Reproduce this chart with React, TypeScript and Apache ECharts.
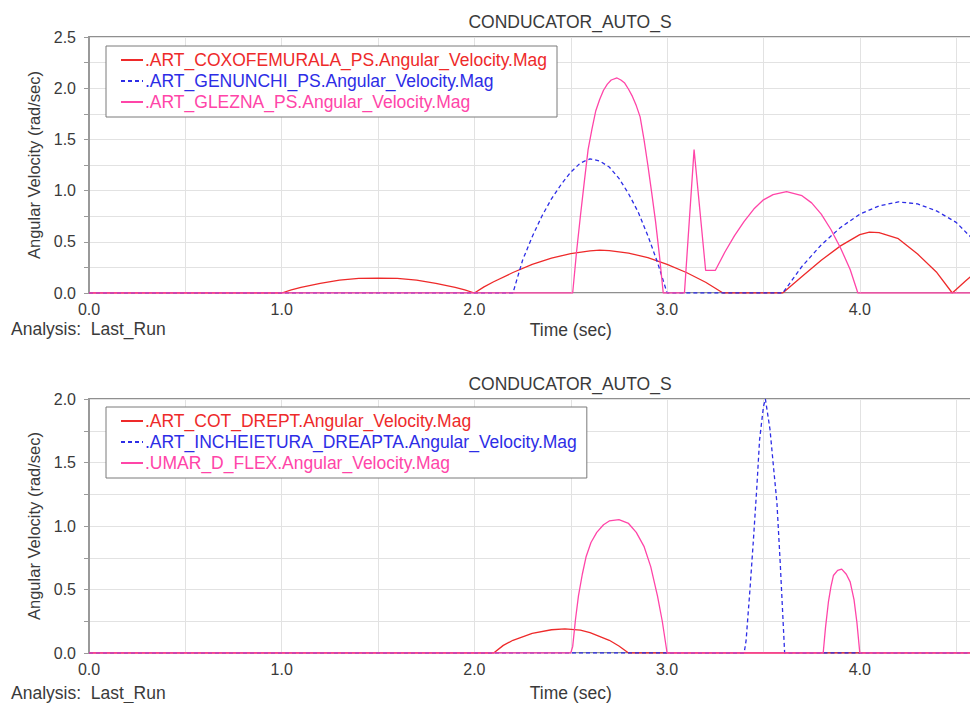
import React, { useEffect, useRef } from "react";
import * as echarts from "echarts";

// ---------- data (time in sec, angular velocity in rad/sec) ----------
const titleText = "CONDUCATOR_AUTO_S";
const analysisText = "Analysis:  Last_Run";
const xName = "Time (sec)";
const yName = "Angular Velocity (rad/sec)";

const topNames = [
  ".ART_COXOFEMURALA_PS.Angular_Velocity.Mag",
  ".ART_GENUNCHI_PS.Angular_Velocity.Mag",
  ".ART_GLEZNA_PS.Angular_Velocity.Mag",
];
const bottomNames = [
  ".ART_COT_DREPT.Angular_Velocity.Mag",
  ".ART_INCHEIETURA_DREAPTA.Angular_Velocity.Mag",
  ".UMAR_D_FLEX.Angular_Velocity.Mag",
];

const coxofemurala: number[][] = [
  [0, 0], [1.0, 0], [1.05, 0.03], [1.1, 0.055], [1.2, 0.095], [1.3, 0.125], [1.4, 0.142], [1.5, 0.146],
  [1.6, 0.142], [1.7, 0.125], [1.8, 0.095], [1.9, 0.055], [1.95, 0.03], [2.0, 0],
  [2.05, 0.06], [2.1, 0.11], [2.2, 0.2], [2.3, 0.28], [2.4, 0.34], [2.5, 0.385], [2.6, 0.412], [2.65, 0.418],
  [2.7, 0.414], [2.8, 0.39], [2.9, 0.345], [3.0, 0.28], [3.1, 0.2], [3.2, 0.105], [3.29, 0], [3.6, 0],
  [3.65, 0.08], [3.7, 0.16], [3.8, 0.32], [3.9, 0.46], [4.0, 0.57], [4.05, 0.595], [4.1, 0.59], [4.2, 0.53],
  [4.3, 0.38], [4.4, 0.2], [4.48, 0], [4.55, 0.12], [4.6, 0.2], [4.7, 0.32], [4.8, 0.4], [4.9, 0.44], [5.0, 0.42],
];
const genunchi: number[][] = [
  [0, 0], [2.2, 0], [2.25, 0.32], [2.3, 0.55], [2.35, 0.75], [2.4, 0.92], [2.45, 1.06], [2.5, 1.18],
  [2.55, 1.27], [2.6, 1.31], [2.65, 1.29], [2.7, 1.23], [2.75, 1.12], [2.8, 0.97], [2.85, 0.79], [2.9, 0.56],
  [2.95, 0.3], [3.0, 0], [3.6, 0], [3.65, 0.13], [3.7, 0.26], [3.8, 0.47], [3.9, 0.64], [4.0, 0.77],
  [4.1, 0.85], [4.2, 0.89], [4.3, 0.87], [4.4, 0.8], [4.5, 0.69], [4.6, 0.5], [4.7, 0.3], [4.8, 0.1], [4.85, 0], [5.0, 0],
];
const glezna: number[][] = [
  [0, 0], [2.51, 0], [2.53, 0.4], [2.55, 0.75], [2.57, 1.08], [2.59, 1.4], [2.61, 1.6], [2.63, 1.78],
  [2.65, 1.89], [2.67, 1.98], [2.69, 2.04], [2.71, 2.08], [2.74, 2.1], [2.76, 2.08], [2.78, 2.05],
  [2.8, 1.99], [2.82, 1.92], [2.84, 1.83], [2.86, 1.72], [2.88, 1.5], [2.9, 1.25], [2.92, 0.98],
  [2.94, 0.7], [2.96, 0.37], [2.98, 0], [3.09, 0], [3.14, 1.4],
  [3.2, 0.22], [3.25, 0.22], [3.3, 0.4], [3.35, 0.56], [3.4, 0.7], [3.45, 0.82], [3.5, 0.91], [3.55, 0.96],
  [3.62, 0.99], [3.7, 0.95], [3.75, 0.88], [3.8, 0.77], [3.85, 0.62], [3.9, 0.44], [3.95, 0.23], [3.99, 0], [5.0, 0],
];

const cotDrept: number[][] = [
  [0, 0], [2.1, 0], [2.15, 0.06], [2.2, 0.1], [2.3, 0.155], [2.4, 0.183], [2.47, 0.19], [2.55, 0.18],
  [2.6, 0.16], [2.7, 0.1], [2.75, 0.055], [2.8, 0], [5.0, 0],
];
const incheietura: number[][] = [
  [0, 0], [3.4, 0], [3.41, 0.1], [3.43, 0.5], [3.447, 0.87], [3.465, 1.29], [3.48, 1.68], [3.5, 1.94],
  [3.51, 2.0], [3.534, 1.76], [3.55, 1.5], [3.57, 1.18], [3.587, 0.71], [3.61, 0], [5.0, 0],
];
const umarFlex: number[][] = [
  [0, 0], [2.5, 0], [2.51, 0.05], [2.525, 0.27], [2.54, 0.45], [2.56, 0.62], [2.58, 0.76], [2.605, 0.87],
  [2.635, 0.95], [2.67, 1.01], [2.7, 1.04], [2.75, 1.05], [2.8, 1.02], [2.84, 0.95], [2.88, 0.84],
  [2.915, 0.68], [2.95, 0.45], [2.975, 0.25], [3.0, 0], [3.81, 0], [3.822, 0.2], [3.837, 0.4],
  [3.85, 0.52], [3.863, 0.61], [3.885, 0.65], [3.906, 0.66], [3.93, 0.62], [3.95, 0.56], [3.97, 0.42],
  [3.985, 0.24], [4.0, 0], [5.0, 0],
];

const topYMax = 2.5;
const bottomYMax = 2.0;
const xMax = 5.0;

const RED = "#ee2a2a";
const BLUE = "#2d2de6";
const PINK = "#ff45a8";
const colors = [RED, BLUE, PINK];

const FONT = "Liberation Sans, Arial, sans-serif";
const TEXT = "#3a3a3a";
const BIG = 17.5;

export default function App() {
  const ref = useRef<HTMLDivElement>(null);
  useEffect(() => {
    if (!ref.current) return;
    const chart = echarts.init(ref.current, undefined, { renderer: "svg" });

    const yFmt = (v: number) =>
      Math.abs(v * 2 - Math.round(v * 2)) < 1e-6 ? v.toFixed(1) : "";
    const xFmt = (v: number) =>
      Math.abs(v - Math.round(v)) < 1e-6 && v < 4.6 ? v.toFixed(1) : "";

    const mkX = (gridIndex: number, nameGap: number) => ({
      type: "value",
      gridIndex,
      min: 0,
      max: xMax,
      interval: 0.5,
      name: xName,
      nameLocation: "middle",
      nameGap,
      nameTextStyle: { color: TEXT, fontFamily: FONT, fontSize: BIG },
      axisLine: { show: false },
      axisTick: { show: false },
      axisLabel: { formatter: xFmt, color: TEXT, fontFamily: FONT, fontSize: 16, margin: 8 },
      splitLine: { show: true, lineStyle: { color: "#e2e2e2", width: 1 } },
    });
    const mkY = (gridIndex: number, max: number) => ({
      type: "value",
      gridIndex,
      min: 0,
      max,
      interval: 0.25,
      name: yName,
      nameLocation: "middle",
      nameGap: 43,
      nameTextStyle: { color: TEXT, fontFamily: FONT, fontSize: 16.5 },
      axisLine: { show: true, lineStyle: { color: "#9a9a9a", width: 1 } },
      axisTick: { show: true, length: 5, lineStyle: { color: "#9a9a9a" } },
      axisLabel: { formatter: yFmt, color: TEXT, fontFamily: FONT, fontSize: 16, margin: 13 },
      splitLine: { show: true, lineStyle: { color: "#e2e2e2", width: 1 } },
    });

    const mkLegend = (top: number, names: string[]) => ({
      orient: "vertical",
      left: 106,
      top,
      padding: [5, 10, 6, 14],
      itemGap: 3,
      itemWidth: 22,
      itemHeight: 12,
      borderColor: "#7a7a7a",
      borderWidth: 1,
      backgroundColor: "#ffffff",
      itemStyle: { opacity: 0, borderWidth: 0 },
      data: names.map((n, i) => ({ name: n, textStyle: { color: colors[i] } })),
      textStyle: { fontFamily: FONT, fontSize: BIG, lineHeight: 17, padding: [0, 0, 0, -3] },
    });

    const mkSeries = (name: string, data: number[][], idx: number, color: string, dashed: boolean) => ({
      type: "line",
      name,
      data,
      xAxisIndex: idx,
      yAxisIndex: idx,
      showSymbol: false,
      symbol: "none",
      color,
      lineStyle: { color, width: 1.3, type: dashed ? [4, 3] : "solid" },
      emphasis: { disabled: true },
      clip: true,
    });

    chart.setOption({
      animation: false,
      backgroundColor: "#ffffff",
      grid: [
        { left: 89, top: 37, width: 963.5, height: 256, show: true, borderColor: "#8f8f8f", borderWidth: 1.8, containLabel: false },
        { left: 89, top: 399, width: 963.5, height: 255, show: true, borderColor: "#8f8f8f", borderWidth: 1.8, containLabel: false },
      ],
      xAxis: [mkX(0, 28), mkX(1, 31)],
      yAxis: [mkY(0, topYMax), mkY(1, bottomYMax)],
      legend: [mkLegend(46, topNames), mkLegend(407, bottomNames)],
      series: [
        mkSeries(topNames[0], coxofemurala, 0, RED, false),
        mkSeries(topNames[1], genunchi, 0, BLUE, true),
        mkSeries(topNames[2], glezna, 0, PINK, false),
        mkSeries(bottomNames[0], cotDrept, 1, RED, false),
        mkSeries(bottomNames[1], incheietura, 1, BLUE, true),
        mkSeries(bottomNames[2], umarFlex, 1, PINK, false),
      ],
      graphic: [
        { id: "t1", type: "text", x: 570, y: 22, style: { text: titleText, fill: TEXT, font: `${BIG}px ${FONT}`, textAlign: "center", textVerticalAlign: "middle" } },
        { id: "t2", type: "text", x: 570, y: 384, style: { text: titleText, fill: TEXT, font: `${BIG}px ${FONT}`, textAlign: "center", textVerticalAlign: "middle" } },
        { id: "a1", type: "text", x: 11, y: 329, style: { text: analysisText, fill: TEXT, font: `${BIG}px ${FONT}`, textAlign: "left", textVerticalAlign: "middle" } },
        { id: "a2", type: "text", x: 11, y: 693, style: { text: analysisText, fill: TEXT, font: `${BIG}px ${FONT}`, textAlign: "left", textVerticalAlign: "middle" } },
      ],
    });

    return () => chart.dispose();
  }, []);

  return (
    <div style={{ position: "fixed", left: 0, top: 0, width: 970, height: 703, overflow: "hidden", background: "#fff" }}>
      <div ref={ref} style={{ width: 1060, height: 703 }} />
    </div>
  );
}
